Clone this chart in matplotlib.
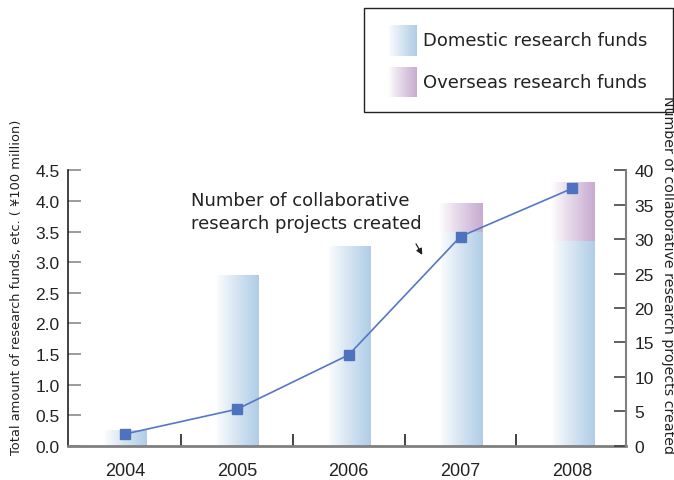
import numpy as np
import matplotlib
matplotlib.use("Agg")
import matplotlib.pyplot as plt
from matplotlib.colors import to_rgb
from matplotlib.patches import Rectangle

plt.rcParams["font.family"] = ["Liberation Sans", "DejaVu Sans"]
WIDE = ["DejaVu Sans"]

years = ["2004", "2005", "2006", "2007", "2008"]
domestic = [0.25, 2.78, 3.26, 3.49, 3.34]      # ¥100 million
overseas = [0.0, 0.0, 0.0, 0.46, 0.96]         # ¥100 million
projects = [1.7, 5.3, 13.2, 30.4, 37.4]        # number of projects

BLUE = "#b0cde6"
PURPLE = "#c8acd0"
LINE = "#5577c4"
MARK = "#4e72bd"


def ramp(color, n=64, power=0.9):
    """Horizontal gradient from white to `color` as an RGBA strip."""
    c = np.array(to_rgb(color))
    t = np.linspace(0, 1, n) ** power
    rgb = (1 - t)[:, None] * np.ones(3) + t[:, None] * c
    rgba = np.concatenate([rgb, np.ones((n, 1))], axis=1)
    return rgba[None, :, :]


fig = plt.figure(figsize=(6.74, 4.81), dpi=100)
ax = fig.add_axes([0.1009, 0.0713, 0.8279, 0.5722])
ax2 = ax.twinx()

# gradient bars
x = np.arange(len(years))
width = 0.39
for xi, d, o in zip(x, domestic, overseas):
    ax.imshow(ramp(BLUE), extent=(xi - width / 2, xi + width / 2, 0, d),
              aspect="auto", interpolation="bilinear", zorder=1)
    if o > 0:
        ax.imshow(ramp(PURPLE), extent=(xi - width / 2, xi + width / 2, d, d + o),
                  aspect="auto", interpolation="bilinear", zorder=1)

ax.set_xlim(-0.51, 4.48)
ax.set_ylim(0, 4.5)
ax.set_yticks(np.arange(0, 4.51, 0.5))
ax.set_yticklabels([f"{v:.1f}" for v in np.arange(0, 4.51, 0.5)])
ax.set_xticks(x)
ax.set_xticklabels(years)
ax.set_xticks(x[:-1] + 0.5, minor=True)
ax.tick_params(axis="x", which="major", length=0, pad=12, labelsize=13, colors="#222222")
ax.tick_params(axis="x", which="minor", direction="in", length=9, width=1.2, color="#222222")
ax.tick_params(axis="y", direction="in", length=9, width=1.2, color="#8a8a8a",
               labelsize=12.5, labelcolor="#222222", pad=6)

for s in ["top", "right"]:
    ax.spines[s].set_visible(False)
ax.spines["left"].set_color("#222222")
ax.spines["left"].set_linewidth(1.2)
ax.spines["bottom"].set_color("#808080")
ax.spines["bottom"].set_linewidth(2)

# number of projects on the right axis
ax2.plot(x, projects, color=LINE, lw=1.2, marker="s", markersize=7,
         markerfacecolor=MARK, markeredgecolor=MARK, zorder=3)
ax2.set_ylim(0, 40)
ax2.set_yticks(range(0, 41, 5))
ax2.tick_params(axis="y", direction="in", length=9, width=1.2, color="#444444",
                labelsize=12.5, labelcolor="#222222", pad=6)
for s in ["top", "left", "bottom"]:
    ax2.spines[s].set_visible(False)
ax2.spines["right"].set_color("#808080")
ax2.spines["right"].set_linewidth(1.5)

fig.text(0.025, 0.402, "Total amount of research funds, etc. ( ¥100 million)",
         rotation=90, ha="center", va="center", fontsize=9.4, color="#222222",
         family=WIDE)
fig.text(0.991, 0.428, "Number of collaborative research projects created",
         rotation=270, ha="center", va="center", fontsize=10.2, color="#222222",
         family=WIDE)

ax.text(0.594, 3.83, "Number of collaborative\nresearch projects created",
        ha="left", va="center", fontsize=13, color="#222222", linespacing=1.3,
        family=WIDE)
ax.annotate("", xy=(2.67, 3.08), xytext=(2.59, 3.34),
            arrowprops=dict(arrowstyle="-|>", color="#222222", lw=0.9,
                            mutation_scale=9))

# legend box drawn in pixel space
ov = fig.add_axes([0, 0, 1, 1])
ov.axis("off")
ov.add_patch(Rectangle((364, 9), 309, 104, fill=False, edgecolor="#222222", lw=1))
legend_items = [("Domestic research funds", BLUE, 26, 57),
                ("Overseas research funds", PURPLE, 68, 98)]
for label, col, y0, y1 in legend_items:
    ov.imshow(ramp(col), extent=(388, 417, y1, y0), aspect="auto",
              interpolation="bilinear")
    ov.text(423, (y0 + y1) / 2, label, ha="left", va="center",
            fontsize=13, color="#222222", family=WIDE)
ov.set_xlim(0, 674)
ov.set_ylim(481, 0)

fig.savefig("out.png", dpi=100)
